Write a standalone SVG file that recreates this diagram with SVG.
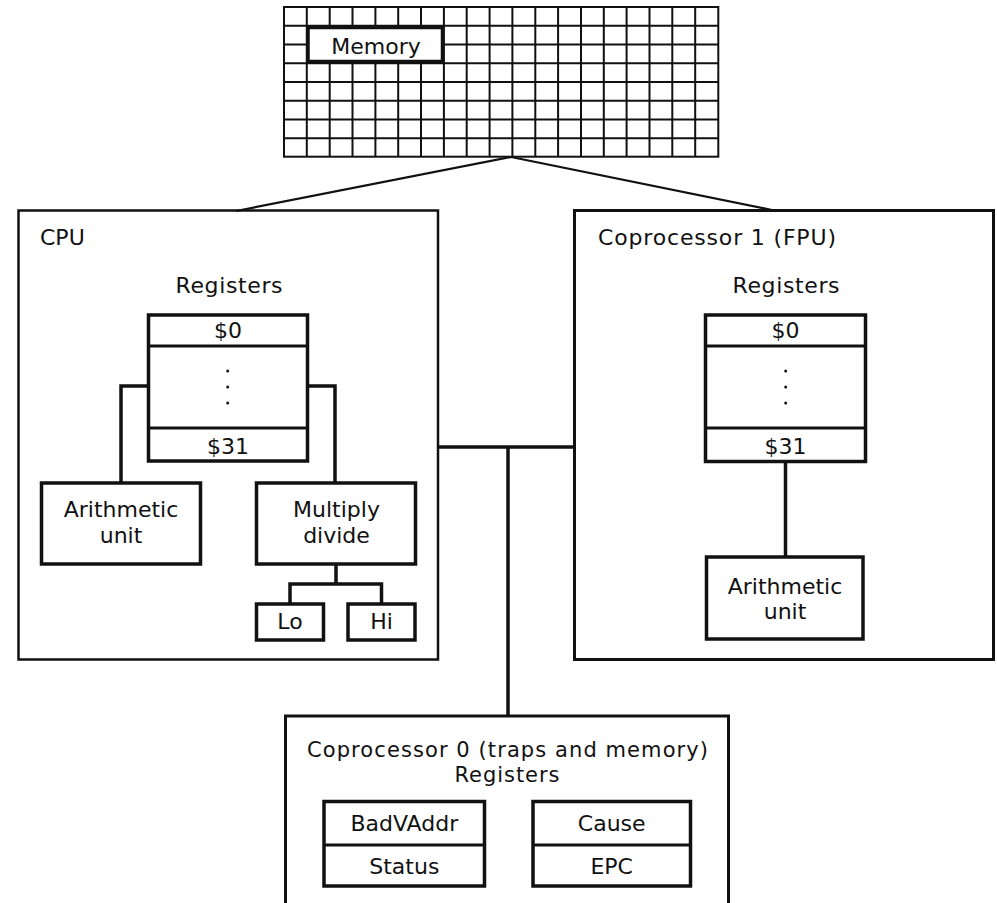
<svg xmlns="http://www.w3.org/2000/svg" width="997" height="903" viewBox="0 0 997 903">
<style>
text{font-family:"DejaVu Sans","Liberation Sans",sans-serif;font-size:22px;fill:#111;}
.c{text-anchor:middle;}
.sm{font-size:21px;}
.outer{fill:none;stroke:#111;stroke-width:3;}
.box{fill:#fff;stroke:#111;stroke-width:3.5;}
.div{stroke:#111;stroke-width:3;fill:none;}
.grid{stroke:#111;stroke-width:2;fill:none;}
.conn{stroke:#111;stroke-width:3.5;fill:none;}
.thin{stroke:#111;stroke-width:2.2;fill:none;}
.dot{fill:#111;}
</style>
<rect width="997" height="903" fill="#fff"/>
<g id="memory">
<rect x="284" y="7" width="434.3" height="149.7" class="grid"/>
<path class="grid" d="M306.8 7V156.7M329.7 7V156.7M352.5 7V156.7M375.4 7V156.7M398.2 7V156.7M421 7V156.7M443.9 7V156.7M466.7 7V156.7M489.6 7V156.7M512.4 7V156.7M535.3 7V156.7M558.1 7V156.7M581 7V156.7M603.8 7V156.7M626.6 7V156.7M649.5 7V156.7M672.3 7V156.7M695.2 7V156.7"/>
<path class="grid" d="M284 25.7H718.3M284 44.4H718.3M284 63.2H718.3M284 81.9H718.3M284 100.7H718.3M284 119.4H718.3M284 138.2H718.3"/>
<rect x="308" y="27.5" width="134.5" height="34" class="box"/>
<text x="376" y="53.5" class="c">Memory</text>
</g>
<g id="cpu">
<rect x="18.5" y="210.5" width="419.5" height="449" class="outer" style="stroke-width:2.5"/>
<text x="40" y="245">CPU</text>
<text x="229" y="293" class="c" textLength="107">Registers</text>
</g>
<g id="fpu">
<rect x="574.5" y="210.5" width="419" height="449" class="outer"/>
<text x="598" y="245" textLength="238">Coprocessor 1 (FPU)</text>
<text x="786" y="293" class="c" textLength="107">Registers</text>
</g>
<g id="cop0">
<rect x="285.5" y="716" width="443" height="200" class="outer"/>
<text x="507.5" y="757" class="c sm" textLength="401">Coprocessor 0 (traps and memory)</text>
<text x="507" y="781.5" class="c sm" textLength="105">Registers</text>
</g>
<g id="connectors">
<path class="thin" d="M511 157L236 211M511 157L772 210"/>
<path class="conn" d="M438 447H574M508 447V715"/>
<path class="conn" d="M148 386H121V483M308 386H335V483"/>
<path class="conn" d="M336 564V584M290 604V584H381.5V604"/>
<path class="conn" d="M785.5 461.5V557"/>
</g>
<g id="cpu-registers">
<rect x="148.5" y="315" width="159" height="146" class="box"/>
<path class="div" d="M148.5 346H307.5M148.5 428H307.5"/>
<text x="228" y="338" class="c">$0</text>
<circle cx="227.7" cy="371" r="1.5" class="dot"/>
<circle cx="227.7" cy="387" r="1.5" class="dot"/>
<circle cx="227.7" cy="403" r="1.5" class="dot"/>
<text x="228" y="453.5" class="c">$31</text>
</g>
<g id="cpu-arith">
<rect x="41.5" y="483" width="159" height="81" class="box"/>
<text x="121" y="516.5" class="c">Arithmetic</text>
<text x="121" y="542.5" class="c">unit</text>
</g>
<g id="cpu-muldiv">
<rect x="256.5" y="483" width="159" height="81" class="box"/>
<text x="336.5" y="516.5" class="c">Multiply</text>
<text x="336.5" y="542.5" class="c">divide</text>
</g>
<g id="cpu-lo">
<rect x="256.5" y="604" width="67" height="36" class="box"/>
<text x="290" y="628.5" class="c">Lo</text>
</g>
<g id="cpu-hi">
<rect x="348" y="604" width="67" height="36" class="box"/>
<text x="381.5" y="628.5" class="c">Hi</text>
</g>
<g id="fpu-registers">
<rect x="705.5" y="315" width="160" height="146.5" class="box"/>
<path class="div" d="M705.5 346H865.5M705.5 428H865.5"/>
<text x="785.5" y="338" class="c">$0</text>
<circle cx="785.7" cy="371" r="1.5" class="dot"/>
<circle cx="785.7" cy="387" r="1.5" class="dot"/>
<circle cx="785.7" cy="403" r="1.5" class="dot"/>
<text x="785.5" y="453.5" class="c">$31</text>
</g>
<g id="fpu-arith">
<rect x="706.5" y="557" width="156.5" height="82" class="box"/>
<text x="785" y="593.5" class="c">Arithmetic</text>
<text x="785" y="618.5" class="c">unit</text>
</g>
<g id="cop0-left">
<rect x="324" y="801.5" width="160.5" height="84.5" class="box"/>
<path class="div" d="M324 845H484.5"/>
<text x="404.3" y="831" class="c">BadVAddr</text>
<text x="404.3" y="874" class="c">Status</text>
</g>
<g id="cop0-right">
<rect x="533" y="801.5" width="157.5" height="84.5" class="box"/>
<path class="div" d="M533 845H690.5"/>
<text x="611.7" y="831" class="c">Cause</text>
<text x="611.7" y="874" class="c">EPC</text>
</g>
</svg>
